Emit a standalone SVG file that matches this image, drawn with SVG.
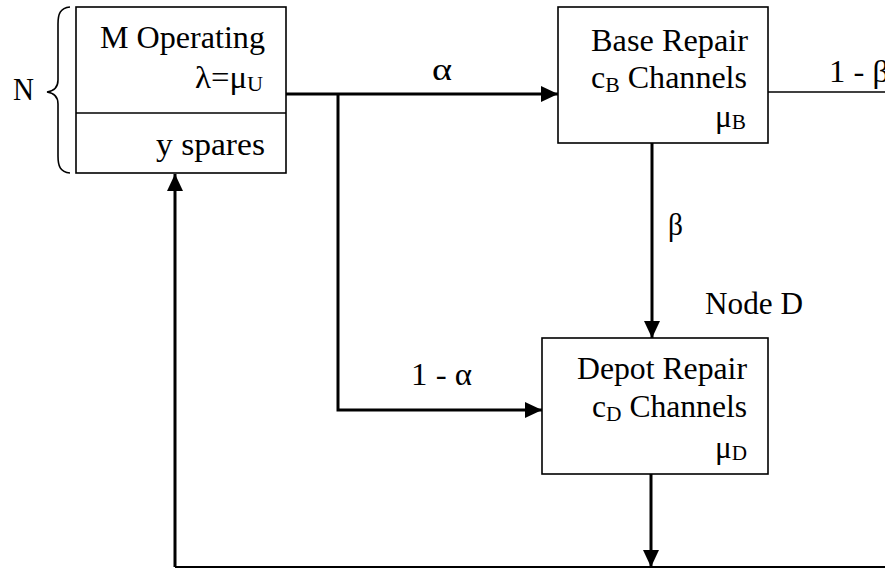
<svg xmlns="http://www.w3.org/2000/svg" width="885" height="569" viewBox="0 0 885 569">
<style>
text{font-family:'Liberation Serif','Times New Roman',Times,serif;font-size:31px;fill:#000}
.sub{font-size:21px}
.box{fill:#fff;stroke:#000;stroke-width:1.6}
.thick{fill:none;stroke:#000;stroke-width:3}
.thin{fill:none;stroke:#000;stroke-width:1.6}
</style>
<defs>
<marker id="arr" markerUnits="userSpaceOnUse" markerWidth="18" markerHeight="18" viewBox="0 0 18 18" refX="17" refY="9" orient="auto">
<path d="M0,1 L17,9 L0,17 Z" fill="#000"/>
</marker>
</defs>
<rect width="885" height="569" fill="#fff"/>
<g font-family="'Liberation Serif', 'Times New Roman', serif">
<g id="connectors">
<path class="thick" d="M286,94 H558" marker-end="url(#arr)"/>
<path class="thick" d="M338,94 V410 H542" marker-end="url(#arr)"/>
<path class="thick" d="M652,143 V338" marker-end="url(#arr)"/>
<path class="thick" d="M651,474 V567" marker-end="url(#arr)"/>
<path class="thin" d="M175,567 H885" style="stroke-width:2"/>
<path class="thick" d="M175,567 V174" marker-end="url(#arr)"/>
<path class="thin" d="M768,92 H885"/>
<text x="432" y="80" textLength="20" lengthAdjust="spacingAndGlyphs">α</text>
<text x="411" y="385" textLength="61" lengthAdjust="spacingAndGlyphs">1 - α</text>
<text x="668" y="235" textLength="15" lengthAdjust="spacingAndGlyphs">β</text>
<text x="829" y="82" textLength="60" lengthAdjust="spacingAndGlyphs">1 - β</text>
</g>
<g id="node-m">
<rect class="box" x="76" y="7" width="210" height="166"/>
<line class="thin" x1="76" y1="113" x2="286" y2="113"/>
<text x="100" y="48" textLength="165" lengthAdjust="spacingAndGlyphs">M Operating</text>
<text x="195" y="88" textLength="68" lengthAdjust="spacingAndGlyphs">λ=μ<tspan class="sub" dy="3">U</tspan></text>
<text x="156" y="155" textLength="109" lengthAdjust="spacingAndGlyphs">y spares</text>
</g>
<g id="brace-n">
<path class="thin" d="M70,7 C60,8 58,14 58,24 V80 C58,88 54,91 47,92 C54,93 58,96 58,104 V156 C58,166 60,172 70,173"/>
<text x="13" y="100" textLength="21" lengthAdjust="spacingAndGlyphs">N</text>
</g>
<g id="node-base">
<rect class="box" x="558" y="7" width="210" height="136"/>
<text x="591" y="51" textLength="157" lengthAdjust="spacingAndGlyphs">Base Repair</text>
<text x="591" y="88" textLength="156" lengthAdjust="spacingAndGlyphs">c<tspan class="sub" dy="4">B</tspan><tspan dy="-4"> Channels</tspan></text>
<text x="715" y="127" textLength="31" lengthAdjust="spacingAndGlyphs">μ<tspan class="sub" dy="2">B</tspan></text>
</g>
<g id="node-depot">
<rect class="box" x="542" y="338" width="226" height="136"/>
<text x="577" y="379" textLength="170" lengthAdjust="spacingAndGlyphs">Depot Repair</text>
<text x="592" y="417" textLength="155" lengthAdjust="spacingAndGlyphs">c<tspan class="sub" dy="4">D</tspan><tspan dy="-4"> Channels</tspan></text>
<text x="715" y="458" textLength="32" lengthAdjust="spacingAndGlyphs">μ<tspan class="sub" dy="2">D</tspan></text>
</g>
<g id="label-node-d">
<text x="705" y="314" textLength="98" lengthAdjust="spacingAndGlyphs">Node D</text>
</g>
</g>
</svg>
